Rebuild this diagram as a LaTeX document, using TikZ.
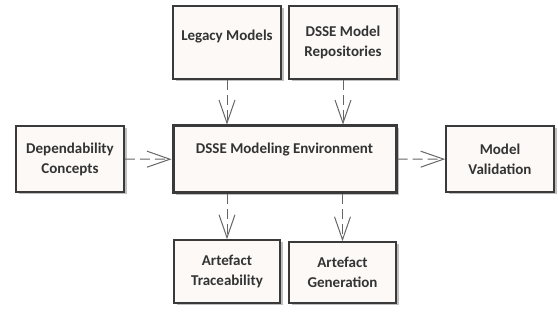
\documentclass[tikz,border=0pt]{standalone}
\usepackage{fontspec}
\setmainfont{Carlito}
\usetikzlibrary{arrows.meta}
\usetikzlibrary{shadows}
\definecolor{boxfill}{HTML}{FCF9F7}
\definecolor{boxline}{HTML}{3A3A3A}
\definecolor{arrline}{HTML}{666666}
\definecolor{txt}{HTML}{333333}

\begin{document}
\begin{tikzpicture}[x=1pt,y=-1pt]
    \tikzstyle{b} = [draw=boxline,fill=boxfill,line width=1.6pt,inner sep=0pt,align=center,
      text=txt,font=\bfseries\fontsize{15}{20}\selectfont,
      drop shadow={shadow xshift=2.5pt,shadow yshift=-2.5pt,fill=black,opacity=.25}]
    \tikzstyle{w} = [minimum width=108pt]
    \tikzstyle{d} = [draw=arrline,line width=1pt,dash pattern=on 10pt off 5pt,
      -{Straight Barb[length=23pt,width=16pt,line width=1pt]}]
    \useasboundingbox (0,0) rectangle (558,320);
    \node [b,w,minimum height=73pt,text height=10pt,text depth=13pt] (leg) at (227,42.5) {Legacy Models};
    \node [b,w,minimum height=73pt] (rep) at (343,42.5) {DSSE Model\\Repositories};
    \node [b,w,minimum height=66pt] (dep) at (70,159) {Dependability\\Concepts};
    \node [b,line width=3pt,minimum width=223pt,minimum height=67pt,text height=10pt,text depth=21pt] (env) at (284.5,159.5) {DSSE Modeling Environment};
    \node [b,w,minimum height=66pt] (val) at (500,159) {Model\\Validation};
    \node [b,minimum width=106pt,minimum height=63pt] (tra) at (227,271.5) {Artefact\\Traceability};
    \node [b,minimum width=107pt,minimum height=61pt] (gen) at (342.5,272.5) {Artefact\\Generation};
    \path [d] (leg) to (leg |- env.north);
    \path [d] (rep) to (rep |- env.north);
    \path [d] (dep) to (env);
    \path [d] (env) to (val);
    \path [d] (env.south -| tra) to (tra);
    \path [d] (env.south -| gen) to (gen);
\end{tikzpicture}
\end{document}
